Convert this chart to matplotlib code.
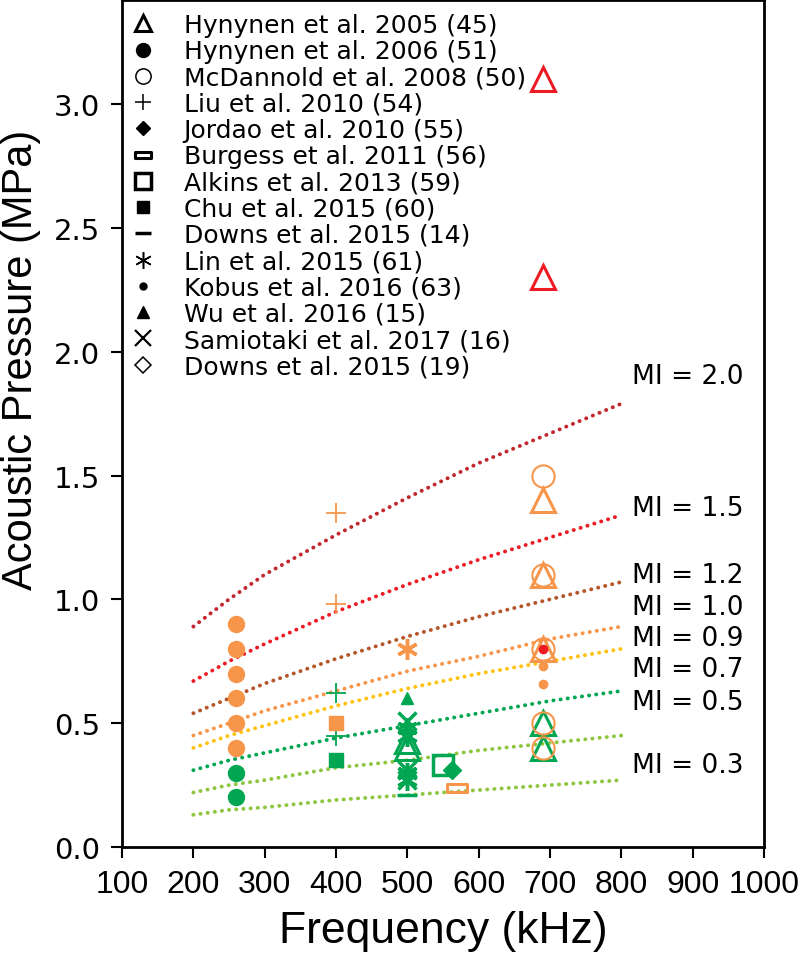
import matplotlib
matplotlib.use("Agg")
import matplotlib.pyplot as plt
from matplotlib.lines import Line2D
from matplotlib.path import Path

# MI iso-lines at these frequencies (kHz)
freq_grid = [200, 250, 300, 400, 500, 600, 700, 800]
mi_2_0 = [0.89, 1.00, 1.10, 1.26, 1.41, 1.55, 1.67, 1.79]
mi_1_5 = [0.67, 0.75, 0.82, 0.95, 1.06, 1.16, 1.25, 1.34]
mi_1_2 = [0.54, 0.60, 0.66, 0.76, 0.85, 0.93, 1.00, 1.07]
mi_1_0 = [0.45, 0.50, 0.55, 0.63, 0.71, 0.77, 0.84, 0.89]
mi_0_9 = [0.40, 0.45, 0.49, 0.57, 0.64, 0.70, 0.75, 0.80]
mi_0_7 = [0.31, 0.35, 0.38, 0.44, 0.49, 0.54, 0.59, 0.63]
mi_0_5 = [0.22, 0.25, 0.27, 0.32, 0.35, 0.39, 0.42, 0.45]
mi_0_3 = [0.13, 0.15, 0.16, 0.19, 0.21, 0.23, 0.25, 0.27]
mi_names = ["2.0", "1.5", "1.2", "1.0", "0.9", "0.7", "0.5", "0.3"]

# studies: frequency (kHz), pressure (MPa), outcome class
hyn05_f = [690, 690, 690, 690, 690, 690, 690, 500, 500]
hyn05_p = [3.1, 2.3, 1.4, 1.1, 0.8, 0.5, 0.4, 0.43, 0.40]
hyn05_c = ["r", "r", "o", "o", "o", "g", "g", "g", "g"]

hyn06_f = [260, 260, 260, 260, 260, 260, 260, 260]
hyn06_p = [0.9, 0.8, 0.7, 0.6, 0.5, 0.4, 0.3, 0.2]
hyn06_c = ["o", "o", "o", "o", "o", "o", "g", "g"]

mcd08_f = [690, 690, 690, 690, 690]
mcd08_p = [1.5, 1.1, 0.8, 0.5, 0.4]
mcd08_c = ["o", "o", "o", "o", "o"]

liu10_f = [400, 400, 400, 400]
liu10_p = [1.35, 0.98, 0.62, 0.45]
liu10_c = ["o", "o", "g", "g"]

jordao10_f = [563]
jordao10_p = [0.31]
jordao10_c = ["g"]

burgess11_f = [570]
burgess11_p = [0.24]
burgess11_c = ["o"]

alkins13_f = [550]
alkins13_p = [0.33]
alkins13_c = ["g"]

chu15_f = [400, 400]
chu15_p = [0.50, 0.35]
chu15_c = ["o", "g"]

downs15a_f = [500]
downs15a_p = [0.21]
downs15a_c = ["g"]

lin15_f = [500, 500, 500, 500, 500]
lin15_p = [0.8, 0.48, 0.45, 0.30, 0.27]
lin15_c = ["o", "g", "g", "g", "g"]

kobus16_f = [690, 690, 690]
kobus16_p = [0.80, 0.73, 0.66]
kobus16_c = ["r", "o", "o"]

wu16_f = [500]
wu16_p = [0.60]
wu16_c = ["g"]

sam17_f = [500, 500, 500]
sam17_p = [0.51, 0.31, 0.27]
sam17_c = ["g", "g", "g"]

downs15b_f = []
downs15b_p = []
downs15b_c = []

colors = {"r": "#ed1c24", "o": "#f7964a", "g": "#00a651"}

plt.rcParams["font.family"] = ["Liberation Sans", "DejaVu Sans"]

pill = Path([(-1, -0.42), (1, -0.42), (1, 0.42), (-1, 0.42), (-1, -0.42)],
            [Path.MOVETO, Path.LINETO, Path.LINETO, Path.LINETO, Path.CLOSEPOLY])

# label, f, p, c, marker, size, filled, edge width, legend size, legend edge width
studies = [
    ("Hynynen et al. 2005 (45)", hyn05_f, hyn05_p, hyn05_c, "^", 17, False, 2.2, 12, 2.2),
    ("Hynynen et al. 2006 (51)", hyn06_f, hyn06_p, hyn06_c, "o", 11.5, True, 1, 10, 1),
    ("McDannold et al. 2008 (50)", mcd08_f, mcd08_p, mcd08_c, "o", 16, False, 1.5, 11, 1.1),
    ("Liu et al. 2010 (54)", liu10_f, liu10_p, liu10_c, "+", 14, True, 1.3, 12, 1.1),
    ("Jordao et al. 2010 (55)", jordao10_f, jordao10_p, jordao10_c, "D", 9, True, 1, 7.5, 1),
    ("Burgess et al. 2011 (56)", burgess11_f, burgess11_p, burgess11_c, pill, 14, False, 2.2, 11, 2.2),
    ("Alkins et al. 2013 (59)", alkins13_f, alkins13_p, alkins13_c, "s", 14.5, False, 2.5, 11, 2.5),
    ("Chu et al. 2015 (60)", chu15_f, chu15_p, chu15_c, "s", 9.5, True, 1, 8.5, 1),
    ("Downs et al. 2015 (14)", downs15a_f, downs15a_p, downs15a_c, "_", 14, True, 2.5, 11, 2.5),
    ("Lin et al. 2015 (61)", lin15_f, lin15_p, lin15_c, (6, 2, 0), 15, True, 2.5, 12, 1.1),
    ("Kobus et al. 2016 (63)", kobus16_f, kobus16_p, kobus16_c, "o", 6, True, 1, 5, 1),
    ("Wu et al. 2016 (15)", wu16_f, wu16_p, wu16_c, "^", 9, True, 1, 9, 1),
    ("Samiotaki et al. 2017 (16)", sam17_f, sam17_p, sam17_c, "x", 13, True, 2.5, 11, 1.6),
    ("Downs et al. 2015 (19)", downs15b_f, downs15b_p, downs15b_c, "D", 9, False, 1.2, 8, 1.1),
]

fig = plt.figure(figsize=(8, 9.62), dpi=100)
ax = fig.add_axes([122 / 800, 114 / 962, 642 / 800, 847 / 962])

# MI lines
mi_series = [mi_2_0, mi_1_5, mi_1_2, mi_1_0, mi_0_9, mi_0_7, mi_0_5, mi_0_3]
mi_colors = ["#c1272d", "#ed1c24", "#b5562a", "#f7964a", "#ffc20e", "#00a651", "#8dc63f", "#8dc63f"]
mi_label_y = [1.90, 1.37, 1.10, 0.97, 0.845, 0.72, 0.585, 0.33]
for vals, col, name, ly in zip(mi_series, mi_colors, mi_names, mi_label_y):
    ax.plot(freq_grid, vals, color=col, lw=2.8, linestyle=(0, (0.05, 1.8)),
            dash_capstyle="round", zorder=1)
    ax.text(815, ly, "MI = " + name, fontsize=19, family=["DejaVu Sans"],
            va="center", ha="left")

handles = []
for label, f, p, c, m, ms, filled, mew, lms, lmew in studies:
    for fi, pi, ci in zip(f, p, c):
        col = colors[ci]
        ax.plot([fi], [pi], linestyle="none", marker=m, markersize=ms,
                markeredgewidth=mew, color=col,
                markerfacecolor=col if filled else "none", zorder=3)
    handles.append(Line2D([], [], linestyle="none", marker=m, markersize=lms,
                          markeredgewidth=lmew, color="black",
                          markerfacecolor="black" if filled else "none", label=label))

leg = ax.legend(handles=handles, loc="upper left", bbox_to_anchor=(0.0, 1.0),
                frameon=False, labelspacing=0.09, handlelength=0.6,
                handletextpad=1.35, borderaxespad=0.1, borderpad=0.42,
                prop={"family": "DejaVu Sans", "size": 18})

ax.set_xlim(100, 1000)
ax.set_ylim(0, 3.42)
ax.set_xticks([100, 200, 300, 400, 500, 600, 700, 800, 900, 1000])
ax.set_yticks([0.0, 0.5, 1.0, 1.5, 2.0, 2.5, 3.0])
ax.set_yticklabels(["0.0", "0.5", "1.0", "1.5", "2.0", "2.5", "3.0"],
                   family="DejaVu Sans")
ax.tick_params(direction="out", length=8, width=1.5, pad=8)
ax.tick_params(axis="x", labelsize=23)
ax.tick_params(axis="y", labelsize=21)
for s in ax.spines.values():
    s.set_linewidth(2)

ax.set_xlabel("Frequency (kHz)", fontsize=32, labelpad=8)
ax.set_ylabel("Acoustic Pressure (MPa)", fontsize=30)
ax.yaxis.set_label_coords(-0.126, 0.576)

fig.savefig("out.png", dpi=100)
